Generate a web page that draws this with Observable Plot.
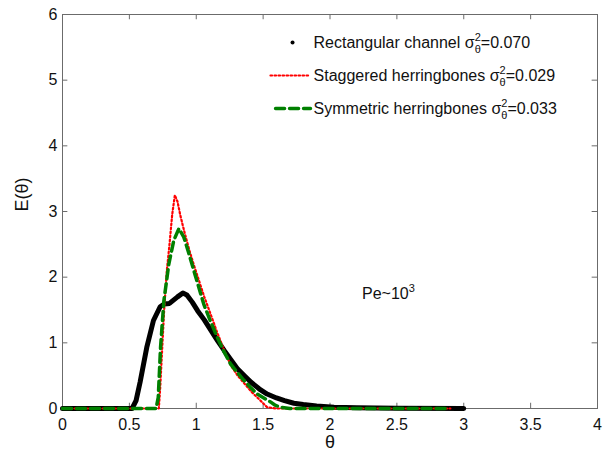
<!DOCTYPE html>
<html><head><meta charset="utf-8">
<script src="https://cdn.jsdelivr.net/npm/d3@7"></script>
<script src="https://cdn.jsdelivr.net/npm/@observablehq/plot@0.6"></script>
<style>body{margin:0;background:#fff}</style>
</head><body><div id="chart"></div>
<script>
// Rectangular channel (black)
const rectTheta = [0, 0.52, 0.55, 0.58, 0.63, 0.68, 0.73, 0.76, 0.80, 0.86, 0.90, 0.93, 0.97, 1.01, 1.06, 1.11, 1.16, 1.21, 1.26, 1.31, 1.36, 1.41, 1.47, 1.53, 1.60, 1.66, 1.73, 1.80, 1.90, 2.03, 2.2, 2.5, 3.0];
const rectE =     [0, 0,    0.12, 0.40, 0.93, 1.34, 1.55, 1.59, 1.60, 1.70, 1.76, 1.73, 1.62, 1.49, 1.35, 1.19, 1.03, 0.88, 0.74, 0.60, 0.50, 0.40, 0.30, 0.22, 0.16, 0.12, 0.08, 0.06, 0.04, 0.02, 0.01, 0.005, 0];
// Staggered herringbones (red dotted)
const stagTheta = [0, 0.72, 0.73, 0.745, 0.76, 0.78, 0.80, 0.82, 0.84, 0.86, 0.88, 0.91, 0.95, 0.98, 1.02, 1.06, 1.11, 1.16, 1.21, 1.26, 1.31, 1.36, 1.41, 1.46, 1.50, 1.53, 1.6, 2.9];
const stagE =     [0, 0,    0.3,  0.9,   1.5,  2.1,  2.5,  2.95, 3.25, 3.15, 2.95, 2.7,  2.4,  2.2,  1.95, 1.7,  1.42, 1.14, 0.88, 0.65, 0.5,  0.38, 0.26, 0.16, 0.08, 0.02, 0, 0];
// Symmetric herringbones (green dashed)
const symTheta = [0, 0.70, 0.716, 0.733, 0.758, 0.795, 0.832, 0.87, 0.907, 0.945, 0.982, 1.02, 1.056, 1.106, 1.156, 1.206, 1.256, 1.306, 1.356, 1.406, 1.456, 1.505, 1.555, 1.59, 1.63, 1.7, 2.88];
const symE =     [0, 0,    0.17,  0.93,  1.64,  2.20,  2.56,  2.74, 2.61,  2.36,  2.10,  1.84, 1.59,  1.33,  1.09,  0.87,  0.68,  0.55,  0.43,  0.32,  0.22,  0.16,  0.10,  0.05, 0.02, 0, 0];

const xTicks = [0, 0.5, 1, 1.5, 2, 2.5, 3, 3.5, 4];
const xTickLabels = ["0", "0.5", "1", "1.5", "2", "2.5", "3", "3.5", "4"];
const yTicks = [0, 1, 2, 3, 4, 5, 6];
const yTickLabels = ["0", "1", "2", "3", "4", "5", "6"];

const legendLabels = [
  "Rectangular channel σ|2|θ|=0.070",
  "Staggered herringbones σ|2|θ|=0.029",
  "Symmetric herringbones σ|2|θ|=0.033"
];
const annotation = "Pe~10|3";

const toRows = (xs, ys) => xs.map((x, i) => ({x, y: ys[i]}));
const rect = toRows(rectTheta, rectE);
const stag = toRows(stagTheta, stagE);
const sym = toRows(symTheta, symE);

const legendY = [5.573, 5.071, 4.568];
const axisGray = "#6b6b6b";
const redDash = "1.6,2.4";

const plot = Plot.plot({
  width: 611, height: 451,
  marginLeft: 62, marginRight: 14, marginTop: 14, marginBottom: 43,
  style: {fontFamily: "'Liberation Sans', Arial, sans-serif", fontSize: "16px", background: "#fff", color: "#111"},
  x: {domain: [0, 4]},
  y: {domain: [0, 6]},
  marks: [
    Plot.axisX({ticks: xTicks, tickSize: 0, tickPadding: 10, tickFormat: (d, i) => xTickLabels[i], label: null, fontSize: 16}),
    Plot.axisY({ticks: yTicks, tickSize: 0, tickPadding: 5, tickFormat: (d, i) => yTickLabels[i], label: null, fontSize: 16}),
    Plot.ruleX(xTicks, {x: d => d, y1: 0, y2: 0.08, stroke: axisGray}),
    Plot.ruleX(xTicks, {x: d => d, y1: 6, y2: 5.92, stroke: axisGray}),
    Plot.ruleY(yTicks, {y: d => d, x1: 0, x2: 0.04, stroke: axisGray}),
    Plot.ruleY(yTicks, {y: d => d, x1: 4, x2: 3.96, stroke: axisGray}),
    Plot.frame({stroke: axisGray}),
    Plot.line(rect, {x: "x", y: "y", stroke: "#000", strokeWidth: 5, strokeLinejoin: "round"}),
    Plot.line(stag, {x: "x", y: "y", stroke: "#ff0000", strokeWidth: 2.2, strokeDasharray: redDash}),
    Plot.line(sym, {x: "x", y: "y", stroke: "#008000", strokeWidth: 3.5, strokeDasharray: "9,5"}),
    // legend
    Plot.dot([0], {x: 1.72, y: legendY[0], r: 2, fill: "#000", stroke: null}),
    Plot.line([{x: 1.555, y: legendY[1]}, {x: 1.854, y: legendY[1]}], {x: "x", y: "y", stroke: "#ff0000", strokeWidth: 2.2, strokeDasharray: redDash}),
    Plot.line([{x: 1.593, y: legendY[2]}, {x: 1.854, y: legendY[2]}], {x: "x", y: "y", stroke: "#008000", strokeWidth: 3.5, strokeDasharray: "9,5"}),
    Plot.text(legendLabels, {x: 1.877, y: (d, i) => legendY[i], text: d => d, textAnchor: "start", fontSize: 16, fill: "#111"}),
    Plot.text([annotation], {x: 2.437, y: 1.75, text: d => d, fontSize: 16, fill: "#111"}),
    // axis titles
    Plot.text(["θ"], {frameAnchor: "bottom", lineAnchor: "bottom", dy: 39, text: d => d, fontSize: 18, fill: "#111"}),
    Plot.text(["E(θ)"], {frameAnchor: "left", dx: -40, rotate: -90, text: d => d, fontSize: 18, fill: "#111"})
  ]
});

// Rich text for superscripts / subscripts
plot.querySelectorAll("text").forEach(t => {
  const s = t.textContent;
  if (!s.includes("|")) return;
  const parts = s.split("|");
  while (t.firstChild) t.removeChild(t.firstChild);
  const ns = "http://www.w3.org/2000/svg";
  const add = (txt, attrs) => {
    const ts = document.createElementNS(ns, "tspan");
    ts.textContent = txt;
    for (const k in attrs) ts.setAttribute(k, attrs[k]);
    t.appendChild(ts);
  };
  if (parts.length === 4) {
    add(parts[0], {});
    add(parts[1], {"font-size": "11px", dy: "-7"});
    add(parts[2], {"font-size": "11px", dx: "-6.1", dy: "12"});
    add(parts[3], {dy: "-5"});
  } else {
    add(parts[0], {});
    add(parts[1], {"font-size": "11px", dy: "-7"});
  }
});

document.getElementById("chart").appendChild(plot);
</script>
</body></html>
